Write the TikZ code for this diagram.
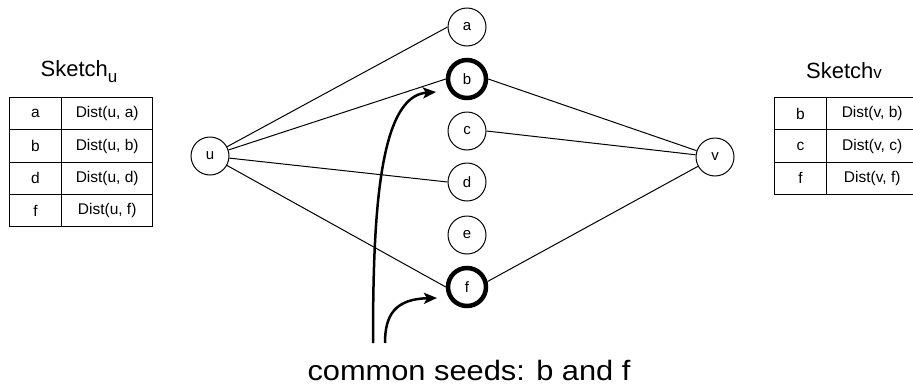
\documentclass[tikz,border=0pt]{standalone}
\usepackage{fontspec}
\setmainfont{Liberation Sans}
\newfontfamily\captionfont[FakeStretch=1.1]{Liberation Sans}
\usetikzlibrary{arrows.meta}

\tikzset{
  vertex/.style={circle, draw, line width=1pt, minimum size=38pt, inner sep=0pt,
    font=\fontsize{15}{17}\selectfont},
  seed/.style={vertex, line width=4.5pt},
  link/.style={line width=1pt},
  pointer/.style={line width=2.5pt, -{Stealth[length=13pt,width=11pt,inset=3pt]}},
  cell/.style={draw, line width=1pt, minimum height=32.2pt, inner sep=0pt,
    font=\fontsize{15.5}{17}\selectfont},
  keycell/.style={cell, minimum width=52.4pt},
  distcell/.style={cell, minimum width=91pt},
  title/.style={font=\fontsize{22}{24}\selectfont, inner sep=0pt, anchor=base west},
}

\begin{document}
\begin{tikzpicture}[x=1pt, y=-1pt]
  \useasboundingbox (0,0) rectangle (913,386);
  \clip (0,0) rectangle (913,386);

  % graph vertices
  \node[vertex] (u) at (210,156) {u};
  \node[vertex] (v) at (715,157) {v};
  \node[vertex] (a) at (467,27)  {a};
  \node[seed]   (b) at (467,79)  {b};
  \node[vertex] (c) at (467,131) {c};
  \node[vertex] (d) at (467,182) {d};
  \node[vertex] (e) at (467,235) {e};
  \node[seed]   (f) at (467,287) {f};

  % edges of u
  \draw[link] (u) -- (a.west);
  \draw[link] (u) -- (b.west);
  \draw[link] (u) -- (d.west);
  \draw[link] (u) -- (f.west);
  % edges of v
  \draw[link] (b.east) -- (v);
  \draw[link] (c.east) -- (v);
  \draw[link] (f.15) -- (v);

  % caption and pointers to the shared seeds
  \node[font=\captionfont\fontsize{28}{30}\selectfont, inner sep=0pt, anchor=base]
    (cap) at (469,380) {common seeds: b and f};
  \coordinate (p1) at (373,343);
  \coordinate (p2) at (385,343);
  \draw[pointer] (p1) .. controls (373,220) and (378,96) .. ([xshift=-31pt,yshift=-13pt]b.center);
  \draw[pointer] (p2) .. controls (385,315) and (395,299) .. ([xshift=-30pt,yshift=-11pt]f.center);

  % sketch of u
  \node[title] (tu) at (40.5,76.7) {Sketch\raisebox{-6pt}{\fontsize{17}{18}\selectfont u}};
  \foreach \k/\dst [count=\i from 0] in {a/{Dist(u, a)}, b/{Dist(u, b)}, d/{Dist(u, d)}, f/{Dist(u, f)}} {
    \node[keycell]  (uk\i) at (35.5, 113.8+32.2*\i) {\k};
    \node[distcell] (ud\i) at (107.2,113.8+32.2*\i) {\dst};
  }

  % sketch of v
  \node[title] (tv) at (806,78.3) {Sketch{\fontsize{17}{18}\selectfont v}};
  \foreach \k/\dst [count=\i from 0] in {b/{Dist(v, b)}, c/{Dist(v, c)}, f/{Dist(v, f)}} {
    \node[keycell]  (vk\i) at (800.5, 113.8+32.2*\i) {\k};
    \node[distcell] (vd\i) at (872.2, 113.8+32.2*\i) {\dst};
  }
\end{tikzpicture}
\end{document}
